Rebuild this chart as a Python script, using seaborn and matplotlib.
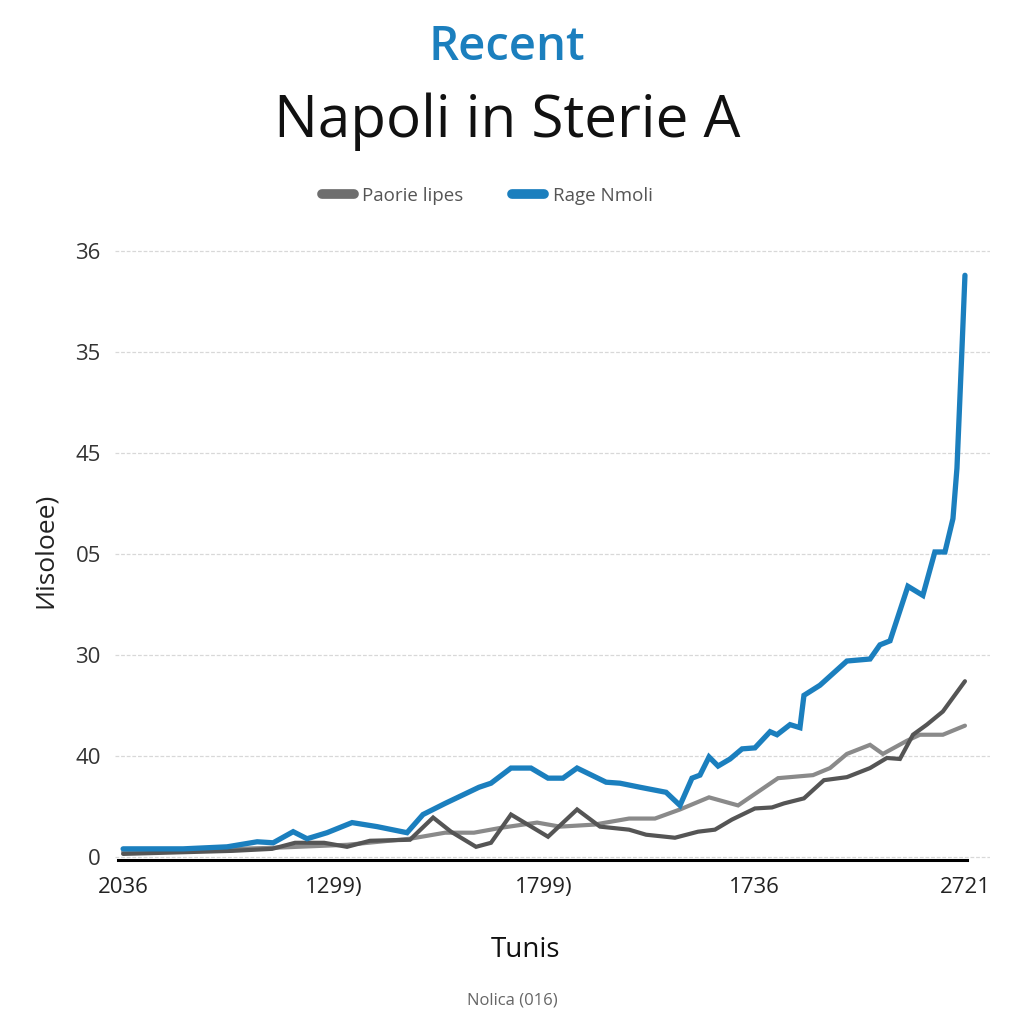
import numpy as np
import pandas as pd
import matplotlib
matplotlib.use("Agg")
import matplotlib.pyplot as plt
from matplotlib.lines import Line2D
import seaborn as sns

# ---- data ----
blue_x = [0, 2.85, 4.94, 6.37, 7.13, 8.08, 8.74, 9.69, 10.88, 12.07, 13.49, 14.25, 15.30,
          16.91, 17.48, 18.43, 19.38, 20.19, 20.90, 21.57, 22.95, 23.61, 24.56, 25.80,
          26.46, 27.03, 27.41, 27.84, 28.27, 28.84, 29.41, 30.02, 30.74, 31.07, 31.69,
          32.16, 32.35, 33.11, 34.39, 35.49, 35.96, 36.44, 37.29, 38.00, 38.57, 39.05,
          39.43, 39.62, 39.86, 40.0]
blue_y = [0.8, 0.8, 1.0, 1.5, 1.4, 2.5, 1.8, 2.4, 3.4, 3.0, 2.4, 4.2, 5.3,
          6.9, 7.3, 8.8, 8.8, 7.8, 7.8, 8.8, 7.4, 7.3, 6.9, 6.4,
          5.1, 7.8, 8.1, 9.9, 9.0, 9.7, 10.7, 10.8, 12.4, 12.1, 13.1,
          12.8, 16.0, 17.0, 19.4, 19.6, 21.0, 21.4, 26.8, 25.9, 30.2, 30.2,
          33.5, 38.5, 50.4, 57.6]

dark_x = [0, 5.18, 7.08, 8.17, 9.55, 10.64, 11.73, 13.63, 14.73, 15.58, 16.77, 17.48,
          18.43, 20.19, 21.57, 22.66, 24.04, 24.85, 26.22, 27.32, 28.12, 28.93, 30.02,
          30.83, 31.40, 32.35, 33.30, 34.39, 35.49, 36.29, 36.91, 37.53, 38.19, 38.95, 40.0]
dark_y = [0.3, 0.6, 0.8, 1.4, 1.4, 1.0, 1.6, 1.7, 3.9, 2.5, 1.0, 1.4,
          4.2, 2.0, 4.7, 3.0, 2.7, 2.2, 1.9, 2.5, 2.7, 3.7, 4.8,
          4.9, 5.3, 5.8, 7.6, 7.9, 8.8, 9.8, 9.7, 12.1, 13.1, 14.4, 17.4]

mid_x = [0, 7.08, 10.64, 13.63, 15.30, 16.67, 18.00, 19.67, 20.76, 22.38, 24.04, 25.27,
         26.46, 27.84, 29.22, 31.12, 32.78, 33.59, 34.39, 35.49, 36.10, 37.24, 37.86,
         38.95, 40.0]
mid_y = [0.5, 0.9, 1.2, 1.8, 2.4, 2.4, 2.9, 3.4, 3.0, 3.2, 3.8, 3.8,
         4.7, 5.9, 5.1, 7.8, 8.1, 8.8, 10.2, 11.1, 10.2, 11.5, 12.1,
         12.1, 13.0]

x_ticks = [0, 10, 20, 30, 40]
x_tick_labels = ["2036", "1299)", "1799)", "1736", "2721"]
y_ticks = [0, 10, 20, 30, 40, 50, 60]
y_tick_labels = ["0", "40", "30", "05", "45", "35", "36"]

legend_labels = ["Paorie lipes", "Rage Nmoli"]

BLUE = "#1b7fbe"
DARK = "#555555"
MID = "#8a8a8a"

sns.set_theme(style="white")
plt.rcParams["font.family"] = ["Open Sans", "DejaVu Sans"]

fig = plt.figure(figsize=(10.24, 10.24), dpi=100)
fig.patch.set_facecolor("white")
ax = fig.add_axes([0.112, 0.1602, 0.855, 0.6045])

df_mid = pd.DataFrame({"x": mid_x, "y": mid_y})
df_dark = pd.DataFrame({"x": dark_x, "y": dark_y})
df_blue = pd.DataFrame({"x": blue_x, "y": blue_y})

sns.lineplot(data=df_mid, x="x", y="y", ax=ax, color=MID, linewidth=3.0,
             estimator=None, legend=False, solid_joinstyle="miter")
sns.lineplot(data=df_dark, x="x", y="y", ax=ax, color=DARK, linewidth=3.0,
             estimator=None, legend=False, solid_joinstyle="miter")
sns.lineplot(data=df_blue, x="x", y="y", ax=ax, color=BLUE, linewidth=3.8,
             estimator=None, legend=False, solid_joinstyle="miter")

ax.set_xlim(-0.4, 41.2)
ax.set_ylim(-0.3, 61)
ax.set_xticks(x_ticks)
ax.set_xticklabels(x_tick_labels, fontsize=16, color="#222222")
ax.set_yticks(y_ticks)
ax.set_yticklabels(y_tick_labels, fontsize=16, color="#333333")
ax.tick_params(axis="both", length=0)
ax.tick_params(axis="x", pad=12)
ax.tick_params(axis="y", pad=10)

ax.grid(axis="y", color="#d8d8d8", linestyle=(0, (3, 1.5)), linewidth=0.9)
ax.grid(axis="x", visible=False)
for s in ["top", "right", "left"]:
    ax.spines[s].set_visible(False)
ax.spines["bottom"].set_color("black")
ax.spines["bottom"].set_linewidth(2.2)
ax.spines["bottom"].set_bounds(-0.25, 40.1)
ax.set_xlabel("")
ax.set_ylabel("")

# y label
fig.text(0.044, 0.463, "Иisoloee)", rotation=90, fontsize=19, color="#222222",
         ha="center", va="center")
# x label
fig.text(0.513, 0.072, "Tunis", fontsize=20, color="#111111", ha="center", va="center")
# footer
fig.text(0.5, 0.023, "Nolica (016)", fontsize=12, color="#666666", ha="center", va="center")

# titles
fig.text(0.495, 0.954, "Recent", fontsize=34, color=BLUE, ha="center", va="center",
         fontweight="semibold")
fig.text(0.495, 0.881, "Napoli in Sterie A", fontsize=42, color="#111111",
         ha="center", va="center")

handles = [Line2D([0], [0], color="#6e6e6e", linewidth=7, solid_capstyle="round"),
           Line2D([0], [0], color=BLUE, linewidth=7, solid_capstyle="round")]
leg = fig.legend(handles, legend_labels, loc="center", bbox_to_anchor=(0.476, 0.809),
                 ncol=2, frameon=False, fontsize=13.5, handlelength=1.7,
                 columnspacing=2.6, handletextpad=0.45)
for t in leg.get_texts():
    t.set_color("#555555")

fig.savefig("out.png", dpi=100, facecolor="white")
